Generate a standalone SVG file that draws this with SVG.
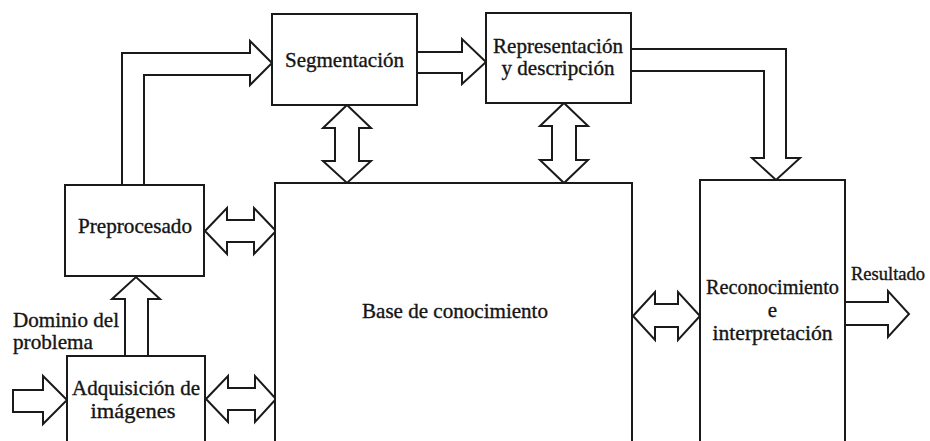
<svg xmlns="http://www.w3.org/2000/svg" width="930" height="441" viewBox="0 0 930 441">
<style>
.box{fill:#fff;stroke:#1a1a1a;stroke-width:2}
.arr{fill:#fff;stroke:#1a1a1a;stroke-width:2;stroke-linejoin:miter}
.arro{fill:none;stroke:#1a1a1a;stroke-width:2;stroke-linejoin:miter}
text{font-family:"Liberation Serif","Times New Roman",serif;font-size:21px;fill:#151515;stroke:#151515;stroke-width:0.35}
.c{text-anchor:middle}
</style>
<rect width="930" height="441" fill="#fff"/>
<g id="connectors">
  <polyline class="arro" points="122,185 122,53 250,53 250,41 272,63 250,85 250,75 144,75 144,185"/>
  <polyline class="arro" points="417,52 462,52 462,39 486,62 462,84 462,73 417,73"/>
  <polyline class="arro" points="631,49 786,49 786,158 800,158 776,180 752,158 764,158 764,71 631,71"/>
  <polygon class="arr" points="347,105 371,128 359,128 359,161 371,161 347,183 323,161 335,161 335,128 323,128"/>
  <polygon class="arr" points="564,103 588,126 576,126 576,160 588,160 564,183 540,160 552,160 552,126 540,126"/>
  <polygon class="arr" points="205,231 227,208 227,220 254,220 254,208 276,231 254,254 254,242 227,242 227,254"/>
  <polygon class="arr" points="206,399 228,376 228,388 255,388 255,376 276,399 255,422 255,410 228,410 228,422"/>
  <polygon class="arr" points="633,316 655,292 655,304 678,304 678,292 700,316 678,340 678,327 655,327 655,340"/>
  <polyline class="arro" points="125,356 125,299 112,299 136,277 160,299 148,299 148,356"/>
  <polygon class="arr" points="13,390 43,390 43,376 67,400 43,424 43,412 13,412"/>
  <polyline class="arro" points="845,302 888,302 888,291 909,314 888,337 888,325 845,325"/>
</g>
<g id="segmentacion">
  <rect class="box" x="272" y="14" width="145" height="91"/>
  <text class="c" x="344.5" y="67" textLength="119" lengthAdjust="spacingAndGlyphs">Segmentación</text>
</g>
<g id="representacion">
  <rect class="box" x="486" y="13" width="145" height="90"/>
  <text class="c" x="558" y="53" textLength="130" lengthAdjust="spacingAndGlyphs">Representación</text>
  <text class="c" x="558" y="75" textLength="113" lengthAdjust="spacingAndGlyphs">y descripción</text>
</g>
<g id="preprocesado">
  <rect class="box" x="65" y="185" width="139" height="91"/>
  <text class="c" x="135" y="233" textLength="114" lengthAdjust="spacingAndGlyphs">Preprocesado</text>
</g>
<g id="base">
  <rect class="box" x="275" y="183" width="357" height="270"/>
  <text class="c" x="455" y="318" textLength="186" lengthAdjust="spacingAndGlyphs">Base de conocimiento</text>
</g>
<g id="reconocimiento">
  <rect class="box" x="700" y="180" width="145" height="275"/>
  <text class="c" x="772.5" y="294" textLength="133" lengthAdjust="spacingAndGlyphs">Reconocimiento</text>
  <text class="c" x="772.5" y="317">e</text>
  <text class="c" x="772.5" y="340" textLength="120" lengthAdjust="spacingAndGlyphs">interpretación</text>
</g>
<g id="adquisicion">
  <rect class="box" x="67" y="356" width="138" height="100"/>
  <text class="c" x="136" y="395" textLength="128" lengthAdjust="spacingAndGlyphs">Adquisición de</text>
  <text class="c" x="133" y="418" textLength="85" lengthAdjust="spacingAndGlyphs">imágenes</text>
</g>
<g id="dominio">
  <text x="13" y="327" textLength="106" lengthAdjust="spacingAndGlyphs">Dominio del</text>
  <text x="13" y="349" textLength="80" lengthAdjust="spacingAndGlyphs">problema</text>
</g>
<g id="resultado">
  <text x="851" y="280" style="font-size:18.5px">Resultado</text>
</g>
</svg>
